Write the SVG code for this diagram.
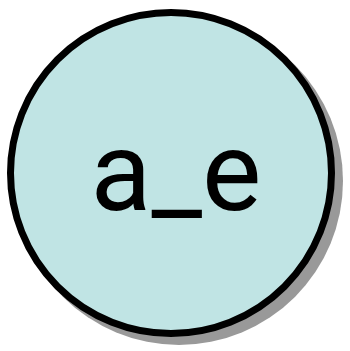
<svg xmlns="http://www.w3.org/2000/svg" width="350" height="351" viewBox="0 0 350 351">
<style>
.shadow{fill:#999999;stroke:none}
.node{fill:#c0e4e4;stroke:#000000;stroke-width:7}
.label{font-family:Roboto,"Liberation Sans",sans-serif;font-size:112px;fill:#000000}
</style>
<g id="node-a_e">
<circle class="shadow" cx="179" cy="181" r="164"/>
<circle class="node" cx="171" cy="173" r="160.5"/>
<text class="label" x="176" y="210" text-anchor="middle">a_e</text>
</g>
<g id="connectors"/>
</svg>
